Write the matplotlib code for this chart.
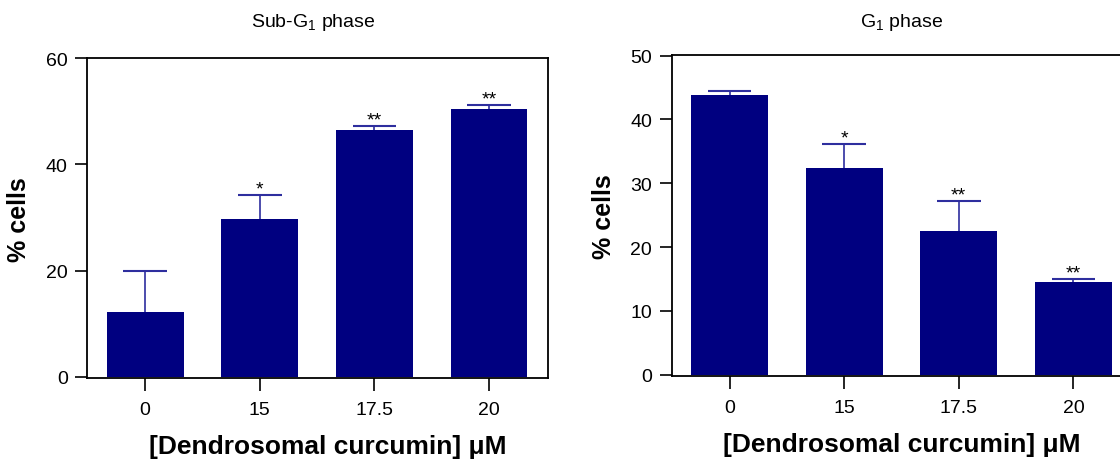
import numpy as np
import matplotlib
matplotlib.use("Agg")
import matplotlib.pyplot as plt

# data
doses = ["0", "15", "17.5", "20"]
subg1_mean = [12.2, 29.7, 46.5, 50.4]
subg1_err = [7.7, 4.6, 0.8, 0.8]
subg1_stars = ["", "*", "**", "**"]
g1_mean = [43.8, 32.4, 22.5, 14.5]
g1_err = [0.6, 3.8, 4.7, 0.5]
g1_stars = ["", "*", "**", "**"]

bar_color = "#000080"
err_color = "#2e2e9e"

plt.rcParams['font.family'] = ['Liberation Sans', 'DejaVu Sans']
plt.rcParams['mathtext.fontset'] = 'custom'
plt.rcParams['mathtext.rm'] = 'Liberation Sans'
plt.rcParams['mathtext.it'] = 'Liberation Sans:italic'
plt.rcParams['mathtext.bf'] = 'Liberation Sans:bold'

fig = plt.figure(figsize=(11.2, 4.6), dpi=100)

panels = [
    # axes rect, means, errs, stars, ylim, yticks, title, xlabel x, title x/y
    ([0.0779, 0.1754, 0.4116, 0.6957], subg1_mean, subg1_err, subg1_stars,
     (-0.3, 60), [0, 20, 40, 60], "Sub-G$_1$ phase", 0.522, (0.49, 1.114)),
    ([0.5997, 0.1798, 0.4116, 0.6985], g1_mean, g1_err, g1_stars,
     (-0.25, 50.1), [0, 10, 20, 30, 40, 50], "G$_1$ phase", 0.50, (0.498, 1.104)),
]

cap_half = 0.19

for rect, mean, err, stars, ylim, yticks, title, xlx, (tx, ty) in panels:
    ax = fig.add_axes(rect)
    x = np.arange(len(doses))
    mean = np.array(mean)
    top = mean + np.array(err)
    ax.bar(x, mean, width=0.67, color=bar_color, zorder=2)
    # upper error bars only
    ax.vlines(x, mean, top, color=err_color, linewidth=1.2, zorder=3)
    ax.hlines(top, x - cap_half, x + cap_half, color=err_color, linewidth=1.5, zorder=3)
    for xi, t, s in zip(x, top, stars):
        if s:
            ax.annotate(s, (xi, t), xytext=(0, 1), textcoords='offset points',
                        ha='center', va='baseline', fontsize=14)
    ax.set_xlim(-0.505, 3.517)
    ax.set_ylim(*ylim)
    ax.set_yticks(yticks)
    ax.set_xticks(x)
    ax.set_xticklabels(doses)
    for sp in ax.spines.values():
        sp.set_linewidth(1.3)
    ax.tick_params(axis='both', direction='out', length=9, width=1.2, labelsize=14)
    ax.tick_params(axis='y', pad=5)
    ax.tick_params(axis='x', pad=7)
    ax.set_ylabel("% cells", fontsize=18, fontweight='bold', va='center')
    ax.yaxis.set_label_coords(-0.147, 0.5)
    ax.set_xlabel("[Dendrosomal curcumin] \u03bcM", fontsize=19, fontweight='bold', va='center')
    ax.xaxis.set_label_coords(xlx, -0.21)
    ax.text(tx, ty, title, transform=ax.transAxes, ha='center', va='center', fontsize=14)

fig.savefig("out.png", dpi=100)
